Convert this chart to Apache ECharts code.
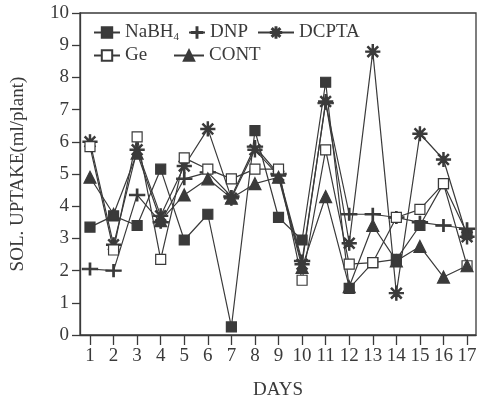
<!DOCTYPE html>
<html>
<head>
<meta charset="utf-8">
<script src="https://cdn.jsdelivr.net/npm/echarts@6/dist/echarts.min.js"></script>
<style>html,body{margin:0;padding:0;background:#fff;}#c{width:478px;height:399px;}</style>
</head>
<body>
<div id="c"></div>
<script>
const days = [1,2,3,4,5,6,7,8,9,10,11,12,13,14,15,16,17];
const yTicks = [0,1,2,3,4,5,6,7,8,9,10];
const nabh4 = [3.35,3.7,3.4,5.15,2.95,3.75,0.25,6.35,3.65,2.95,7.85,1.45,2.25,2.35,3.4,4.7,3.15];
const dnp   = [2.05,2.0,4.35,3.5,4.85,5.05,4.3,5.85,5.0,2.3,7.2,3.75,3.75,3.65,3.5,3.4,3.3];
const dcpta = [6.0,2.8,5.75,3.7,5.25,6.4,4.25,5.75,4.95,2.2,7.25,2.85,8.8,1.3,6.25,5.45,3.05];
const ge    = [5.85,2.64,6.15,2.35,5.5,5.15,4.85,5.15,5.15,1.7,5.75,2.2,2.25,3.65,3.9,4.7,2.15];
const cont  = [4.9,3.75,5.65,3.55,4.35,4.85,4.25,4.7,4.9,2.1,4.3,1.5,3.4,2.3,2.75,1.8,2.15];

const C = '#3a3a3a';
const FONT = 'Liberation Serif';
const pairs = arr => days.map((d,i)=>[d,arr[i]]);

const asterisk = 'path://M-0.9,-10L0.9,-10L0.9,10L-0.9,10Z M-10,-0.9L10,-0.9L10,0.9L-10,0.9Z M-7.7,-6.4L-6.4,-7.7L7.7,6.4L6.4,7.7Z M7.7,-6.4L6.4,-7.7L-7.7,6.4L-6.4,7.7Z';
const plus = 'path://M-10,-0.9L10,-0.9L10,0.9L-10,0.9Z M-0.9,-8L0.9,-8L0.9,8L-0.9,8Z';

function ser(name, data, symbol, size, fill){
  return {
    name, type:'line', data: pairs(data), symbol, symbolSize:size,
    lineStyle:{color:C,width:1.2}, itemStyle:{color:fill||C,borderColor:C,borderWidth:1.2},
    z: 3
  };
}
const legendText = {fontFamily:FONT,fontSize:19,color:C,padding:[0,0,0,0],
  rich:{s:{fontFamily:FONT,fontSize:11,color:C,padding:[9,0,0,0]}}};
function leg(name,left,top,w){
  return {data:[name],left,top,itemWidth:w,itemHeight:13,textStyle:legendText,
    formatter:n=>n==='NaBH4'?'NaBH{s|4}':n};
}

const chart = echarts.init(document.getElementById('c'));
chart.setOption({
  backgroundColor:'#fff',
  animation:false,
  grid:{left:80,right:2,top:13,bottom:64,outerBoundsMode:'none',containLabel:false,
        show:true,borderColor:C,borderWidth:1.3,backgroundColor:'transparent'},
  legend:[
    leg('NaBH4',88,18,26),
    leg('DNP',183,18,16),
    leg('DCPTA',252,18,36),
    leg('Ge',88,41,26),
    leg('CONT',168,41,30)
  ],
  xAxis:{
    type:'value', min:0.576, max:17.38,
    name:'DAYS', nameLocation:'middle', nameGap:46,
    nameTextStyle:{fontFamily:FONT,fontSize:19,color:C},
    axisLine:{lineStyle:{color:C,width:1.3}},
    axisTick:{show:true,customValues:days,length:10,lineStyle:{color:C,width:1.3}},
    axisLabel:{customValues:days,fontFamily:FONT,fontSize:19,color:C,margin:12},
    splitLine:{show:false}
  },
  yAxis:{
    type:'value', min:0, max:10, interval:1,
    name:'SOL. UPTAKE(ml/plant)', nameLocation:'middle', nameGap:52,
    nameTextStyle:{fontFamily:FONT,fontSize:19,color:C},
    axisLine:{show:true,lineStyle:{color:C,width:1.3}},
    axisTick:{show:true,length:8,lineStyle:{color:C,width:1.3}},
    axisLabel:{fontFamily:FONT,fontSize:19,color:C,margin:11,formatter:v=>yTicks.includes(v)?String(v):''},
    splitLine:{show:false}
  },
  series:[
    ser('NaBH4', nabh4, 'rect', 10),
    ser('DNP', dnp, plus, [15,12]),
    ser('DCPTA', dcpta, asterisk, 14),
    ser('Ge', ge, 'rect', 10, '#fff'),
    ser('CONT', cont, 'triangle', 12)
  ]
});
</script>
</body>
</html>
